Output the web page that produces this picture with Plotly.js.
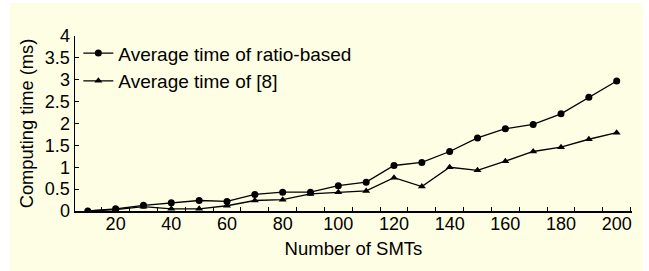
<!DOCTYPE html>
<html>
<head>
<meta charset="utf-8">
<script src="https://cdn.plot.ly/plotly-3.0.1.min.js"></script>
<style>
html,body{margin:0;padding:0;background:#ffffff;}
#chart{position:absolute;left:10px;top:3px;width:633px;height:268px;}
</style>
</head>
<body>
<div id="chart"></div>
<script>
const smtCounts = [10,20,30,40,50,60,70,80,90,100,110,120,130,140,150,160,170,180,190,200];
const ratioBasedTime = [0.00,0.05,0.13,0.19,0.24,0.22,0.38,0.43,0.43,0.58,0.66,1.04,1.11,1.36,1.67,1.88,1.98,2.22,2.60,2.97];
const ref8Time = [0.00,0.03,0.10,0.05,0.05,0.12,0.24,0.26,0.39,0.43,0.46,0.76,0.56,1.00,0.93,1.14,1.36,1.46,1.64,1.79];
const seriesNames = ["Average time of ratio-based","Average time of [8]"];
const xTickVals = [20,40,60,80,100,120,140,160,180,200];
const yTickVals = [0,0.5,1,1.5,2,2.5,3,3.5,4];
const yTickText = ["0","0.5","1","1.5","2","2.5","3","3.5","4"];

const font = "Arial, 'Liberation Sans', sans-serif";
const traces = [
  {x: smtCounts, y: ratioBasedTime, name: seriesNames[0], mode: "lines+markers",
   line: {color: "#000000", width: 1.3}, marker: {symbol: "circle", size: 7, color: "#000000"}},
  {x: smtCounts, y: ref8Time, name: seriesNames[1], mode: "lines+markers",
   line: {color: "#000000", width: 1.3}, marker: {symbol: "triangle-up", size: 7, color: "#000000"}}
];
const layout = {
  width: 633, height: 268,
  paper_bgcolor: "#FEFEE4", plot_bgcolor: "#FEFEE4",
  margin: {l: 65, r: 11, t: 33, b: 60},
  font: {family: font, color: "#000000", size: 18},
  showlegend: true,
  legend: {x: 0.006, y: 1.01, xanchor: "left", yanchor: "top", bgcolor: "rgba(0,0,0,0)",
           font: {family: font, size: 19, color: "#000000"}, itemwidth: 30, tracegroupgap: 0},
  xaxis: {
    range: [5.4, 205.5], tickvals: xTickVals, ticks: "", showgrid: false, zeroline: false,
    showline: true, linecolor: "#000000", linewidth: 1.5, ticklabelstandoff: -4,
    tickfont: {family: font, size: 18, color: "#000000"},
    minor: {tick0: 5, dtick: 10, ticks: "inside", ticklen: 4, tickcolor: "#000000", tickwidth: 1, showgrid: false},
    title: {text: "Number of SMTs", font: {family: font, size: 18.5, color: "#000000"}, standoff: 9}
  },
  yaxis: {
    range: [0, 4], tickvals: yTickVals, ticktext: yTickText, ticks: "inside", ticklen: 4,
    tickcolor: "#000000", tickwidth: 1, showgrid: false, zeroline: false,
    showline: true, linecolor: "#000000", linewidth: 1.5,
    tickfont: {family: font, size: 18, color: "#000000"},
    title: {text: "Computing time (ms)", font: {family: font, size: 18.3, color: "#000000"}, standoff: 6}
  }
};
Plotly.newPlot("chart", traces, layout, {displayModeBar: false, staticPlot: true});
</script>
</body>
</html>
